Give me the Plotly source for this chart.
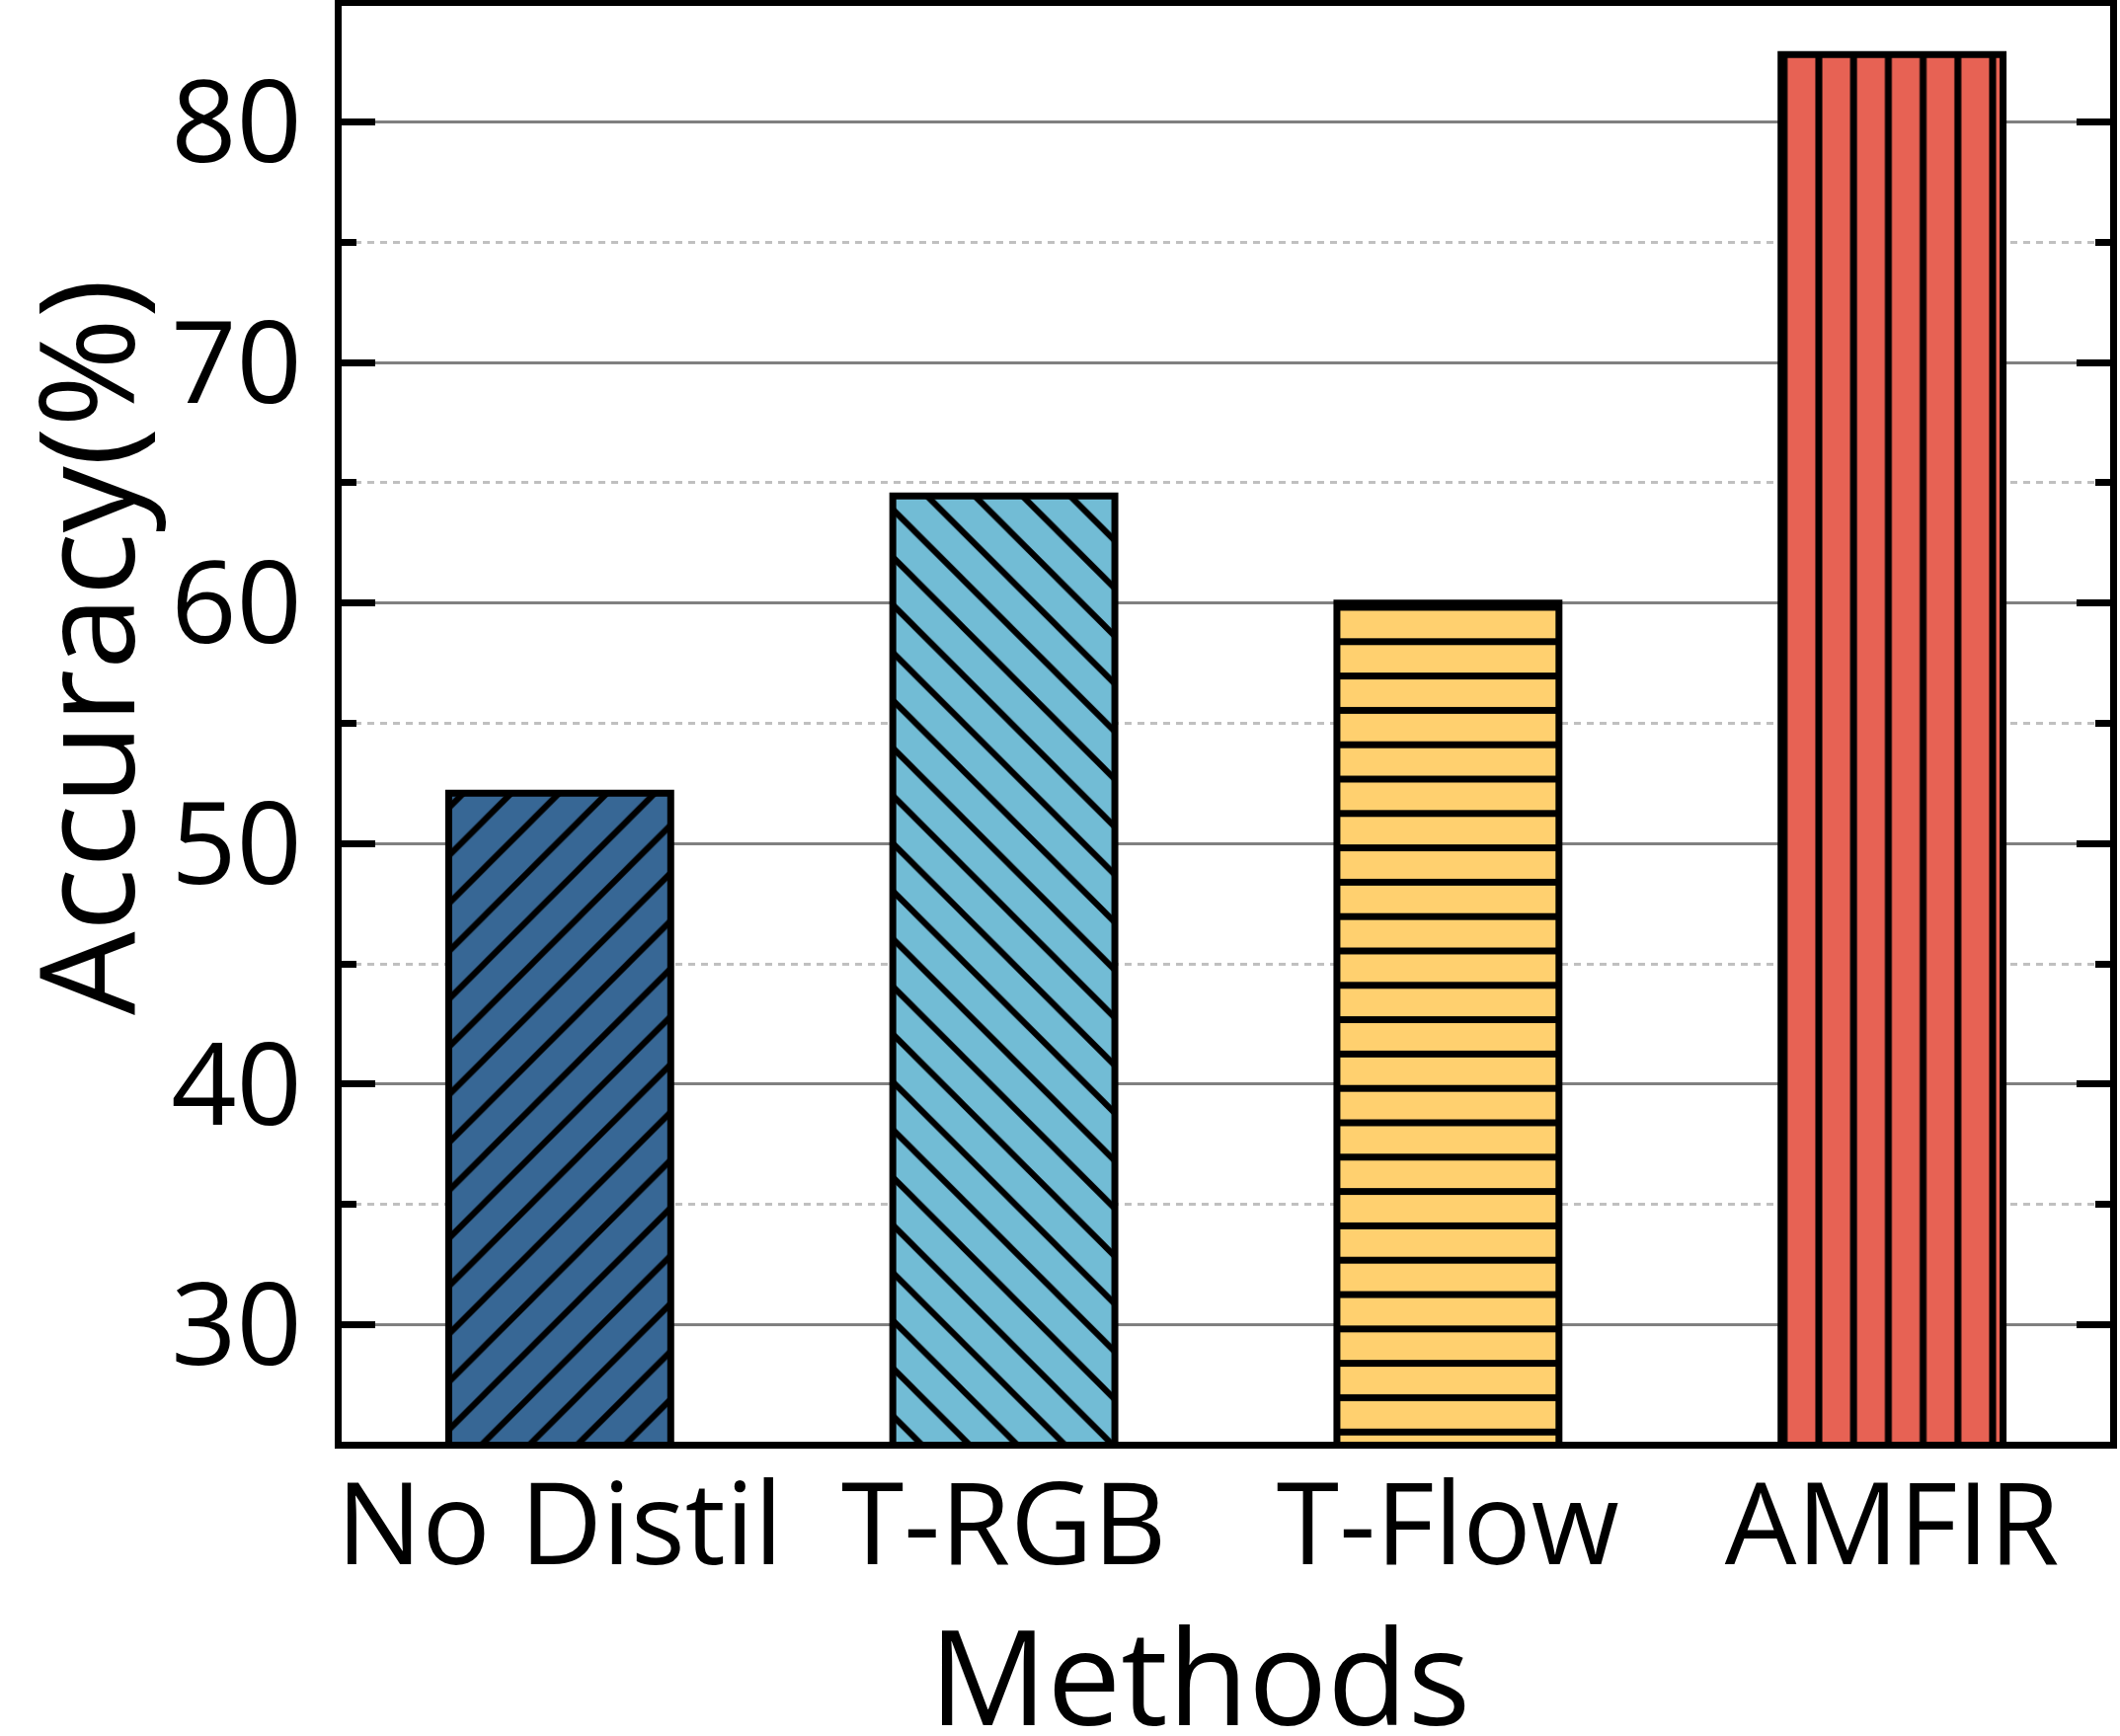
import plotly.graph_objects as go

categories = ["No Distil", "T-RGB", "T-Flow", "AMFIR"]
accuracy = [52.1, 64.45, 60.0, 82.8]
colors = ["#376795", "#72BCD5", "#FFD06F", "#E76254"]
hatches = ["/", "\\", "-", "|"]
hatch_sizes = [34.26, 34.16, 34.8, 35.2]
hatch_solidity = [0.18, 0.18, 0.2, 0.2]
y_ticks = [30, 40, 50, 60, 70, 80]
y_minor_ticks = [35, 45, 55, 65, 75]

W, H = 2147, 1758
L, R, T, B = 346, 10, 6, 298
plot_w = W - L - R
plot_h = H - T - B

fig = go.Figure()
for i, (cat, val) in enumerate(zip(categories, accuracy)):
    fig.add_trace(go.Bar(
        x=[i],
        y=[val],
        name=cat,
        width=0.5,
        marker=dict(
            color=colors[i],
            line=dict(color="black", width=7),
            pattern=dict(
                shape=hatches[i],
                size=hatch_sizes[i],
                solidity=hatch_solidity[i],
                fgcolor="#000000",
                bgcolor=colors[i],
                fgopacity=1,
                fillmode="replace",
            ),
        ),
        showlegend=False,
    ))

font_family = "Open Sans"

fig.update_layout(
    width=W, height=H,
    barmode="overlay",
    margin=dict(l=L, r=R, t=T, b=B, pad=0, autoexpand=False),
    paper_bgcolor="white",
    plot_bgcolor="white",
    font=dict(family=font_family, color="black"),
    xaxis=dict(
        range=[-0.491, 3.491],
        tickmode="array",
        tickvals=list(range(len(categories))),
        ticktext=categories,
        tickfont=dict(size=115, family=font_family, color="black"),
        showline=True, linecolor="black", linewidth=7, mirror=True,
        ticks="", showgrid=False, zeroline=False,
        ticklabelstandoff=-21,
        automargin=False,
    ),
    yaxis=dict(
        range=[25.14, 84.82],
        tickmode="array",
        tickvals=y_ticks,
        ticktext=[str(v) for v in y_ticks],
        tickfont=dict(size=116, family=font_family, color="black"),
        showline=True, linecolor="black", linewidth=7, mirror="ticks",
        ticks="inside", ticklen=34, tickwidth=7, tickcolor="black",
        showgrid=True, gridcolor="#808080", gridwidth=3,
        zeroline=False,
        ticklabelstandoff=10,
        automargin=False,
        minor=dict(
            tickvals=y_minor_ticks,
            ticks="inside", ticklen=15, tickwidth=7, tickcolor="black",
            showgrid=True, gridcolor="#C0C0C0", gridwidth=2.5, griddash="7px,6px",
        ),
    ),
    annotations=[
        dict(
            text="Methods", xref="paper", yref="paper",
            x=(1215 - L) / plot_w, y=(H - B - 1695) / plot_h,
            xanchor="center", yanchor="middle", showarrow=False,
            font=dict(size=133, family=font_family, color="black"),
        ),
        dict(
            text="Accuracy(%)", xref="paper", yref="paper",
            x=(84 - L) / plot_w, y=(H - B - 655) / plot_h,
            xanchor="center", yanchor="middle", showarrow=False, textangle=-90,
            font=dict(size=134, family=font_family, color="black"),
        ),
    ],
)

fig.write_html(
    "out.html",
    config={"displayModeBar": False},
    post_script="document.body.style.margin='0';document.body.style.overflow='hidden';",
)
